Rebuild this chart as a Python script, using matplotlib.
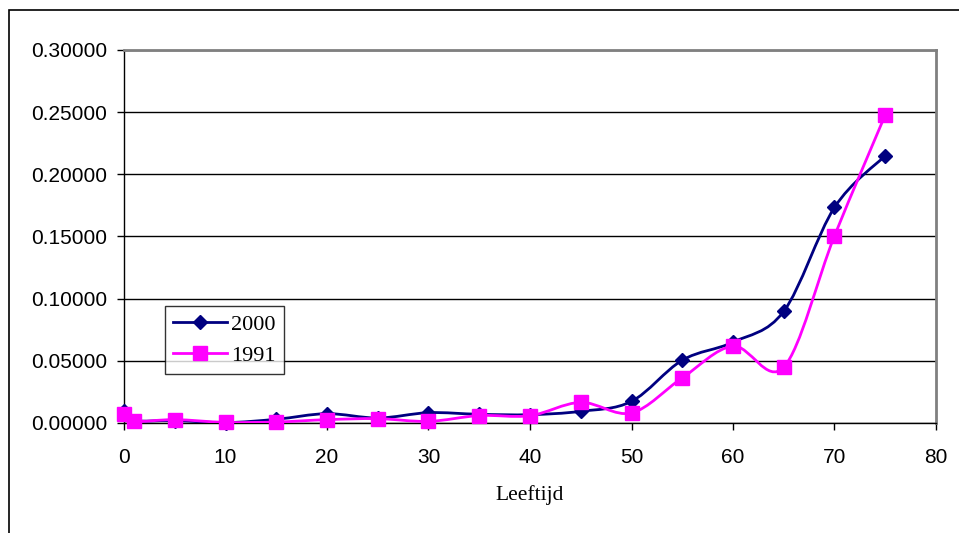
import matplotlib
matplotlib.use("Agg")
import matplotlib.pyplot as plt
from matplotlib.path import Path
from matplotlib.patches import PathPatch, Rectangle
from matplotlib.lines import Line2D
import numpy as np

# data
ages = [0, 1, 5, 10, 15, 20, 25, 30, 35, 40, 45, 50, 55, 60, 65, 70, 75]
rate_2000 = [0.0100, 0.0020, 0.0020, 0.0003, 0.0030, 0.0075, 0.0040, 0.0083, 0.0070, 0.0067,
             0.0094, 0.0174, 0.0505, 0.0650, 0.0898, 0.1734, 0.2150]
rate_1991 = [0.0070, 0.0013, 0.0027, 0.0005, 0.0008, 0.0027, 0.0035, 0.0013, 0.0060, 0.0059,
             0.0166, 0.0081, 0.0363, 0.0618, 0.0449, 0.1505, 0.2478]
x_ticks = [0, 10, 20, 30, 40, 50, 60, 70, 80]
y_ticks = [0.0, 0.05, 0.10, 0.15, 0.20, 0.25, 0.30]

NAVY = "#000080"
MAGENTA = "#FF00FF"


def smooth_path(xs, ys):
    # excel-like smoothed line: cubic bezier segments (catmull-rom control points)
    pts = np.column_stack([xs, ys]).astype(float)
    n = len(pts)
    verts = [pts[0]]
    codes = [Path.MOVETO]
    for i in range(n - 1):
        p0 = pts[i - 1] if i > 0 else pts[i]
        p1 = pts[i]
        p2 = pts[i + 1]
        p3 = pts[i + 2] if i + 2 < n else pts[i + 1]
        c1 = p1 + (p2 - p0) / 6.0
        c2 = p2 - (p3 - p1) / 6.0
        verts += [c1, c2, p2]
        codes += [Path.CURVE4] * 3
    return Path(verts, codes)


fig = plt.figure(figsize=(9.59, 5.33), dpi=100)
fig.patches.append(Rectangle((9 / 959, -0.1), 1.2, 1 - 10.5 / 533 + 0.1,
                             transform=fig.transFigure, fill=False,
                             edgecolor="black", linewidth=1.2))

ax = fig.add_axes([124 / 959, 1 - 423 / 533, (936 - 124) / 959, (423 - 50) / 533])

for ys, col, mk, ms, lab in [(rate_2000, NAVY, "D", 7.5, "2000"),
                             (rate_1991, MAGENTA, "s", 10, "1991")]:
    ax.add_patch(PathPatch(smooth_path(ages, ys), facecolor="none", edgecolor=col,
                           linewidth=2, zorder=3))
    ax.plot(ages, ys, linestyle="none", marker=mk, markersize=ms, color=col,
            zorder=4, clip_on=False)

ax.set_xlim(0, 80)
ax.set_ylim(0, 0.3)
ax.set_xticks(x_ticks)
ax.set_yticks(y_ticks)
ax.set_xticklabels([str(t) for t in x_ticks], fontfamily="Liberation Sans", fontsize=15)
ax.set_yticklabels([f"{t:.5f}" for t in y_ticks], fontfamily="Liberation Sans", fontsize=15)
ax.tick_params(direction="out", length=5, width=1, color="black", pad=7)
ax.tick_params(axis="x", pad=13)
ax.yaxis.grid(True, color="black", linewidth=1)
ax.set_axisbelow(True)

for side in ["top", "right"]:
    ax.spines[side].set_color("#808080")
    ax.spines[side].set_linewidth(2)
for side in ["left", "bottom"]:
    ax.spines[side].set_color("black")
    ax.spines[side].set_linewidth(1)

ax.set_xlabel("Leeftijd", fontfamily="Liberation Serif", fontsize=15.5, labelpad=13)

handles = [Line2D([], [], color=NAVY, marker="D", markersize=7.5, linewidth=2),
           Line2D([], [], color=MAGENTA, marker="s", markersize=10, linewidth=2)]
leg = fig.legend(handles, ["2000", "1991"], loc="upper left",
                 bbox_to_anchor=(165 / 959, 1 - 306 / 533), borderaxespad=0,
                 prop={"family": "Liberation Serif", "size": 16},
                 frameon=True, fancybox=False, handlelength=2.4, handletextpad=0.2,
                 labelspacing=0.45, borderpad=0.38)
leg.get_frame().set_edgecolor("black")
leg.get_frame().set_linewidth(1)

fig.savefig("out.png", dpi=100)
